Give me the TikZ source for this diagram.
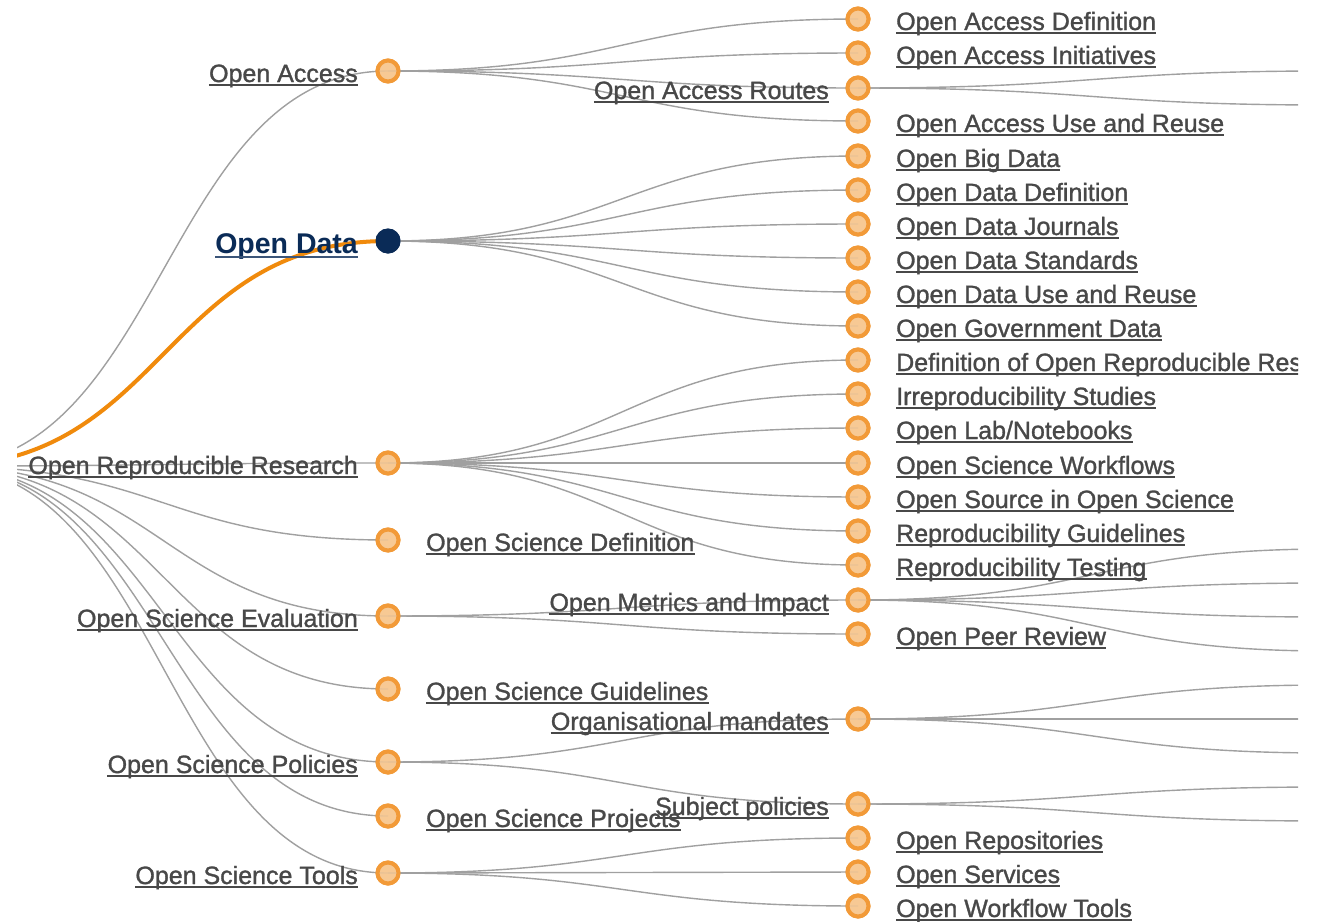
\documentclass[tikz,border=0pt]{standalone}
\usepackage{fontspec}
\setmainfont{Liberation Sans}
\newfontfamily\lblfont{Liberation Sans}[FakeBold=1.2]
\usetikzlibrary{calc}

\definecolor{linkgray}{HTML}{A0A0A0}
\definecolor{hiorange}{HTML}{F08A0C}
\definecolor{dotring}{HTML}{F29A38}
\definecolor{dotfill}{HTML}{F7C892}
\definecolor{navy}{HTML}{0A2B57}
\definecolor{txtgray}{HTML}{484848}

\tikzset{
  % horizontal S-shaped tree link
  diag/.style={to path={let \p1=(\tikztostart), \p2=(\tikztotarget),
      \n1={0.5*\x1+0.5*\x2} in
      .. controls (\n1,\y1) and (\n1,\y2) .. (\tikztotarget)}},
  link/.style={draw=linkgray, line width=1.4pt},
  hilink/.style={draw=hiorange, line width=4pt},
  dot/.style={circle, inner sep=0pt, minimum size=21pt, line width=4pt,
      draw=dotring, fill=dotfill, fill opacity=0.85},
  seldot/.style={circle, inner sep=0pt, minimum size=25pt, fill=navy},
  lbl/.style={inner sep=0pt, text=txtgray, font=\lblfont\fontsize{25}{30}\selectfont},
  lblR/.style={lbl, anchor=base west},
  lblL/.style={lbl, anchor=base east},
  sellbl/.style={inner sep=0pt, anchor=base east, text=navy,
      font=\bfseries\fontsize{28.5}{32}\selectfont},
  uline/.style={draw=txtgray, line width=1.8pt},
  seluline/.style={draw=navy!80, line width=1.8pt},
}

\begin{document}
\begin{tikzpicture}[x=1pt, y=-1pt]
\useasboundingbox[fill=white] (0,0) rectangle (1327,921);

\begin{scope}
\clip (17,0) rectangle (1298,921);

% root (left of the visible area) and first level
\coordinate (root) at (-60,466);
\node[dot] (oa)   at (388,71)  {};
\node[seldot] (od) at (388,241) {};
\node[dot] (orr)  at (388,463) {};
\node[dot] (osd)  at (388,540) {};
\node[dot] (ose)  at (388,616) {};
\node[dot] (osg)  at (388,689) {};
\node[dot] (osp)  at (388,762) {};
\node[dot] (ospr) at (388,816) {};
\node[dot] (ost)  at (388,873) {};

% second level
\node[dot] (oadef)  at (858,19)  {};
\node[dot] (oaini)  at (858,53)  {};
\node[dot] (oarou)  at (858,88)  {};
\node[dot] (oause)  at (858,121) {};
\node[dot] (obd)    at (858,156) {};
\node[dot] (oddef)  at (858,190) {};
\node[dot] (odj)    at (858,224) {};
\node[dot] (ods)    at (858,258) {};
\node[dot] (odu)    at (858,292) {};
\node[dot] (ogd)    at (858,326) {};
\node[dot] (dorr)   at (858,360) {};
\node[dot] (irs)    at (858,394) {};
\node[dot] (oln)    at (858,428) {};
\node[dot] (osw)    at (858,463) {};
\node[dot] (oss)    at (858,497) {};
\node[dot] (rgu)    at (858,531) {};
\node[dot] (rte)    at (858,565) {};
\node[dot] (omi)    at (858,600) {};
\node[dot] (opr)    at (858,634) {};
\node[dot] (orgm)   at (858,719) {};
\node[dot] (subp)   at (858,804) {};
\node[dot] (orep)   at (858,838) {};
\node[dot] (oser)   at (858,872) {};
\node[dot] (owt)    at (858,906) {};

% third level, beyond the right edge
\coordinate (r1)  at (1328,71);
\coordinate (r2)  at (1328,105);
\coordinate (m1)  at (1328,549);
\coordinate (m2)  at (1328,583);
\coordinate (m3)  at (1328,617);
\coordinate (m4)  at (1328,651);
\coordinate (g1)  at (1328,685);
\coordinate (g2)  at (1328,719);
\coordinate (g3)  at (1328,753);
\coordinate (s1)  at (1328,787);
\coordinate (s2)  at (1328,821);

% links
\foreach \c in {oa,orr,osd,ose,osg,osp,ospr,ost}
  \draw[link] (root) to[diag] (\c.center);
\foreach \c in {oadef,oaini,oarou,oause}
  \draw[link] (oa.center) to[diag] (\c.center);
\foreach \c in {obd,oddef,odj,ods,odu,ogd}
  \draw[link] (od.center) to[diag] (\c.center);
\foreach \c in {dorr,irs,oln,osw,oss,rgu,rte}
  \draw[link] (orr.center) to[diag] (\c.center);
\foreach \c in {omi,opr}
  \draw[link] (ose.center) to[diag] (\c.center);
\foreach \c in {orgm,subp}
  \draw[link] (osp.center) to[diag] (\c.center);
\foreach \c in {orep,oser,owt}
  \draw[link] (ost.center) to[diag] (\c.center);
\foreach \c in {r1,r2}
  \draw[link] (oarou.center) to[diag] (\c);
\foreach \c in {m1,m2,m3,m4}
  \draw[link] (omi.center) to[diag] (\c);
\foreach \c in {g1,g2,g3}
  \draw[link] (orgm.center) to[diag] (\c);
\foreach \c in {s1,s2}
  \draw[link] (subp.center) to[diag] (\c);
\draw[hilink] (root) to[diag] (od.center);

% redraw the dots over the links
\foreach \c/\x/\y in {oa/388/71,orr/388/463,osd/388/540,ose/388/616,osg/388/689,
  osp/388/762,ospr/388/816,ost/388/873,
  oadef/858/19,oaini/858/53,oarou/858/88,oause/858/121,obd/858/156,oddef/858/190,
  odj/858/224,ods/858/258,odu/858/292,ogd/858/326,dorr/858/360,irs/858/394,
  oln/858/428,osw/858/463,oss/858/497,rgu/858/531,rte/858/565,omi/858/600,
  opr/858/634,orgm/858/719,subp/858/804,orep/858/838,oser/858/872,owt/858/906}
  \node[dot] (\c-top) at (\x,\y) {};
\node[seldot] (od-top) at (388,241) {};

% first-level labels
\node[lblL] (t-oa)   at (358,82)  {Open Access};
\node[sellbl] (t-od) at (358,253) {Open Data};
\node[lblL] (t-orr)  at (358,474) {Open Reproducible Research};
\node[lblR] (t-osd)  at (426,551) {Open Science Definition};
\node[lblL] (t-ose)  at (358,627) {Open Science Evaluation};
\node[lblR] (t-osg)  at (426,700) {Open Science Guidelines};
\node[lblL] (t-osp)  at (358,773) {Open Science Policies};
\node[lblR] (t-ospr) at (426,827) {Open Science Projects};
\node[lblL] (t-ost)  at (358,884) {Open Science Tools};

% second-level labels
\node[lblR] (t-oadef) at (896,30)  {Open Access Definition};
\node[lblR] (t-oaini) at (896,64)  {Open Access Initiatives};
\node[lblL] (t-oarou) at (829,99)  {Open Access Routes};
\node[lblR] (t-oause) at (896,132) {Open Access Use and Reuse};
\node[lblR] (t-obd)   at (896,167) {Open Big Data};
\node[lblR] (t-oddef) at (896,201) {Open Data Definition};
\node[lblR] (t-odj)   at (896,235) {Open Data Journals};
\node[lblR] (t-ods)   at (896,269) {Open Data Standards};
\node[lblR] (t-odu)   at (896,303) {Open Data Use and Reuse};
\node[lblR] (t-ogd)   at (896,337) {Open Government Data};
\node[lblR] (t-dorr)  at (896,371) {Definition of Open Reproducible Research};
\node[lblR] (t-irs)   at (896,405) {Irreproducibility Studies};
\node[lblR] (t-oln)   at (896,439) {Open Lab/Notebooks};
\node[lblR] (t-osw)   at (896,474) {Open Science Workflows};
\node[lblR] (t-oss)   at (896,508) {Open Source in Open Science};
\node[lblR] (t-rgu)   at (896,542) {Reproducibility Guidelines};
\node[lblR] (t-rte)   at (896,576) {Reproducibility Testing};
\node[lblL] (t-omi)   at (829,611) {Open Metrics and Impact};
\node[lblR] (t-opr)   at (896,645) {Open Peer Review};
\node[lblL] (t-orgm)  at (829,730) {Organisational mandates};
\node[lblL] (t-subp)  at (829,815) {Subject policies};
\node[lblR] (t-orep)  at (896,849) {Open Repositories};
\node[lblR] (t-oser)  at (896,883) {Open Services};
\node[lblR] (t-owt)   at (896,917) {Open Workflow Tools};

% underlines
\foreach \n in {t-oa,t-orr,t-osd,t-ose,t-osg,t-osp,t-ospr,t-ost,
  t-oadef,t-oaini,t-oarou,t-oause,t-obd,t-oddef,t-odj,t-ods,t-odu,t-ogd,
  t-dorr,t-irs,t-oln,t-osw,t-oss,t-rgu,t-rte,t-omi,t-opr,t-orgm,t-subp,
  t-orep,t-oser,t-owt}
  \draw[uline] ([yshift=-2.7pt]\n.base west) -- ([yshift=-2.7pt]\n.base east);
\draw[seluline] ([yshift=-4pt]t-od.base west) -- ([yshift=-4pt]t-od.base east);
\end{scope}
\end{tikzpicture}
\end{document}
